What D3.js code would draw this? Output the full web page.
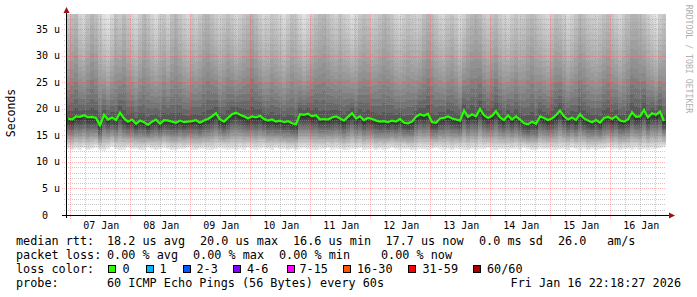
<!DOCTYPE html>
<html><head><meta charset="utf-8">
<script src="https://cdn.jsdelivr.net/npm/d3@7"></script>
<style>
html,body{margin:0;padding:0;background:#fff;}
svg{display:block;}
text{font-family:"DejaVu Sans Mono",monospace;}
</style></head>
<body>
<svg id="chart" width="697" height="297"></svg>
<script>
// ---------- data ----------
const startTime = Date.UTC(2026, 0, 6, 22, 18, 27);
const endTime = Date.UTC(2026, 0, 16, 22, 18, 27);
const yTicks = [0, 5, 10, 15, 20, 25, 30, 35];
const yTickLabels = ["0  ", "5 u", "10 u", "15 u", "20 u", "25 u", "30 u", "35 u"];
const dayLabels = ["07 Jan","08 Jan","09 Jan","10 Jan","11 Jan","12 Jan","13 Jan","14 Jan","15 Jan","16 Jan"];
// median rtt (us), one value per 96 minutes
const medianRtt = [
 18.2,18.0,18.6,18.5,18.8,18.4,18.5,18.3,16.9,18.9,
 18.0,18.4,17.9,19.3,18.2,17.6,18.0,17.2,17.8,17.5,
 17.0,17.6,18.0,17.2,17.9,17.8,17.6,17.4,17.8,17.5,
 17.6,17.7,17.9,17.4,17.8,18.1,18.6,19.2,18.0,17.6,
 18.3,19.0,19.3,18.9,18.6,18.2,18.6,18.4,18.7,18.1,
 17.8,18.0,17.6,17.8,17.5,17.7,17.3,17.1,19.0,18.9,
 19.1,18.6,18.8,18.0,18.1,18.0,18.4,18.6,18.2,17.8,
 18.5,19.2,18.2,18.6,17.9,18.3,18.1,17.8,17.6,17.7,
 17.5,17.8,17.6,18.1,17.4,17.3,17.6,18.5,19.0,18.7,
 19.1,17.5,17.4,18.2,18.3,18.6,18.2,18.0,17.8,19.7,
 18.5,19.0,18.6,20.0,18.8,18.3,18.7,19.6,18.4,17.9,
 18.8,18.0,18.6,18.0,17.3,17.1,17.6,17.2,18.6,18.3,
 17.9,18.2,18.8,19.7,18.6,18.0,18.4,17.9,19.0,18.2,
 17.8,17.5,17.9,17.4,18.3,18.5,18.1,18.6,17.8,17.6,
 18.0,19.4,18.5,18.6,19.8,18.4,19.2,18.9,19.5,17.7
];
// upper extent of the smoke (us) per column
const smokeHigh = [
 50,56,58,47,44,52,60,55,48,42,
 40,45,53,49,57,51,46,44,50,58,
 54,47,43,49,52,46,55,60,53,48,
 45,50,47,52,58,61,54,49,46,51,
 55,50,44,48,53,57,62,56,49,45,
 47,52,50,46,43,48,55,51,45,41,
 44,49,53,58,60,55,50,47,52,49,
 46,42,45,51,56,53,48,50,54,59,
 57,52,47,44,49,53,50,46,48,55,
 60,58,52,47,45,50,54,49,43,47,
 55,59,62,57,51,48,53,56,50,46,
 44,49,52,48,51,57,60,54,50,47,
 45,50,55,52,48,44,47,53,58,56,
 51,49,46,50,54,57,52,48,45,50,
 55,60,62,58,53,49,44,40,47,52
];
// lowest ping (us) per column
const smokeLow = [
 12.4,12.2,12.5,12.3,12.6,12.2,12.4,12.7,12.3,12.1,
 12.5,12.8,12.4,12.2,12.3,12.6,12.4,12.5,12.2,12.3,
 12.6,12.4,12.3,12.5,12.7,12.4,12.2,12.3,12.5,12.4,
 12.6,12.3,12.2,12.4,12.5,12.3,12.2,12.4,12.6,12.5,
 12.3,12.4,12.2,12.5,12.3,12.6,12.4,12.3,12.5,12.7,
 12.4,12.3,12.6,12.4,12.5,12.2,12.4,12.3,12.5,12.6,
 12.4,12.3,12.2,12.5,12.4,12.6,12.3,12.5,12.4,12.2,
 12.3,12.5,12.4,12.6,12.3,12.4,12.5,12.2,12.4,12.3,
 12.5,12.6,12.4,12.3,12.5,12.4,12.2,12.3,12.5,12.4,
 12.3,12.4,12.6,12.5,12.3,12.4,12.2,12.5,12.4,12.3,
 12.2,12.4,12.3,12.5,12.4,12.6,12.3,12.2,12.4,12.5,
 12.3,12.4,12.5,12.3,12.6,12.4,12.2,12.3,12.5,12.4,
 12.4,12.3,12.2,12.4,12.5,12.3,12.6,12.4,12.3,12.5,
 12.2,12.4,12.3,12.5,12.4,12.6,12.3,12.4,12.2,12.5,
 12.4,12.3,12.5,12.2,12.4,12.3,12.5,12.4,12.6,12.8
];
const lossLabels = ["0","1","2-3","4-6","7-15","16-30","31-59","60/60"];
const lossColors = ["#26ff00","#00b8ff","#0059ff","#7e00ff","#ff00ff","#ff5500","#ff0000","#a10000"];

// ---------- layout ----------
const svg = d3.select("#chart");
const plot = {left: 66, right: 666, top: 14, bottom: 215};
const x = d3.scaleUtc().domain([startTime, endTime]).range([plot.left, plot.right]);
const y = d3.scaleLinear().domain([0, 37.9]).range([plot.bottom, plot.top]);

svg.append("defs").append("clipPath").attr("id","clip")
  .append("rect").attr("x",plot.left).attr("y",plot.top)
  .attr("width",plot.right-plot.left).attr("height",plot.bottom-plot.top);

// ---------- smoke ----------
const n = medianRtt.length;
const step = (endTime - startTime) / n;
const K = 24;
const smoke = svg.append("g").attr("clip-path","url(#clip)").attr("shape-rendering","crispEdges");
const grey = v => { const c = Math.round(Math.max(0, Math.min(255, v))); return `rgb(${c},${c},${c})`; };
for (let i = 0; i < n; i++) {
  const x0 = Math.round(x(startTime + i*step));
  const x1 = Math.round(x(startTime + (i+1)*step));
  const m = medianRtt[i], h = smokeHigh[i], l = smokeLow[i];
  for (let k = 0; k < K; k++) {
    const t = (K - k) / K;
    const top = m + (h - m) * t;
    const bot = m - (m - l) * t;
    smoke.append("rect").attr("x",x0).attr("width",x1-x0)
      .attr("y",y(top)).attr("height",y(m)-y(top))
      .attr("fill",grey(38 + 200*Math.pow(t,0.45)));
    smoke.append("rect").attr("x",x0).attr("width",x1-x0)
      .attr("y",y(m)).attr("height",y(bot)-y(m))
      .attr("fill",grey(38 + 194*t));
  }
}

// ---------- grid ----------
const grid = svg.append("g").attr("shape-rendering","crispEdges");
const minorCol = "rgba(150,150,150,0.5)", majorCol = "rgba(255,60,60,0.35)";
d3.range(1, 38).filter(v => v % 5 !== 0).forEach(v => {
  const yy = Math.round(y(v)) + 0.5;
  grid.append("line").attr("x1",64).attr("x2",plot.right).attr("y1",yy).attr("y2",yy)
    .attr("stroke",minorCol).attr("stroke-dasharray","1,1");
});
yTicks.filter(v => v > 0).forEach(v => {
  const yy = Math.round(y(v)) + 0.5;
  grid.append("line").attr("x1",62).attr("x2",plot.right).attr("y1",yy).attr("y2",yy)
    .attr("stroke",majorCol).attr("stroke-dasharray","1,1");
});
d3.utcHour.every(6).range(startTime, endTime).forEach(d => {
  if (d.getUTCHours() === 0) return;
  const xx = Math.round(x(d)) + 0.5;
  grid.append("line").attr("x1",xx).attr("x2",xx).attr("y1",plot.top).attr("y2",plot.bottom+2)
    .attr("stroke",minorCol).attr("stroke-dasharray","1,1");
});
const midnights = d3.utcDay.range(startTime, endTime);
midnights.forEach(d => {
  const xx = Math.round(x(d)) + 0.5;
  grid.append("line").attr("x1",xx).attr("x2",xx).attr("y1",plot.top).attr("y2",plot.bottom+4)
    .attr("stroke",majorCol).attr("stroke-dasharray","1,1");
});

// ---------- median line ----------
const medPts = medianRtt.map((v,i) => [startTime + (i+0.5)*step, v]);
svg.append("path").attr("clip-path","url(#clip)")
  .attr("d", d3.line().x(d => x(d[0])).y(d => y(d[1])).curve(d3.curveLinear)(medPts))
  .attr("fill","none").attr("stroke","#26ff00").attr("stroke-width",2.2);

// ---------- axes ----------
const axisG = svg.append("g").attr("shape-rendering","crispEdges");
axisG.append("line").attr("x1",plot.left+0.5).attr("x2",plot.left+0.5).attr("y1",plot.bottom+3).attr("y2",10)
  .attr("stroke","#000");
axisG.append("line").attr("x1",62).attr("x2",670).attr("y1",plot.bottom+0.5).attr("y2",plot.bottom+0.5)
  .attr("stroke","#000");
svg.append("path").attr("d",`M${plot.left-2.5},13 L${plot.left+3.5},13 L${plot.left+0.5},7 Z`).attr("fill","#a01010");
svg.append("path").attr("d",`M669,${plot.bottom-2.5} L669,${plot.bottom+3.5} L675,${plot.bottom+0.5} Z`).attr("fill","#a01010");

// y tick labels
svg.append("g").selectAll("text").data(yTicks).join("text")
  .attr("x",60).attr("y",d => y(d)).attr("dy","0.35em")
  .attr("text-anchor","end").attr("font-size","10px").attr("fill","#000")
  .attr("xml:space","preserve").style("white-space","pre")
  .text((d,i) => yTickLabels[i]);

// x tick labels at noon
svg.append("g").selectAll("text").data(midnights).join("text")
  .attr("x",d => x(new Date(d.getTime() + 12*3600000)) + 1).attr("y",229)
  .attr("text-anchor","middle").attr("font-size","10px").attr("fill","#000")
  .text((d,i) => dayLabels[i]);

// y title
svg.append("text").attr("transform","translate(15,113) rotate(-90)")
  .attr("text-anchor","middle").attr("font-size","11.5px").attr("fill","#000").text("Seconds");

// watermark
svg.append("text").attr("transform","translate(686,59) rotate(90)")
  .attr("text-anchor","middle").attr("font-size","8.2px").attr("fill","#b0b0b0")
  .text("RRDTOOL / TOBI OETIKER");

// ---------- legend ----------
const lg = svg.append("g").attr("font-size","11.8px").attr("fill","#000");
const put = (txt, xx, yy, anchor) => lg.append("text").attr("x",xx).attr("y",yy)
  .attr("text-anchor",anchor || "start").attr("xml:space","preserve").style("white-space","pre").text(txt);
put("median rtt:", 16, 245);
put("18.2 us avg", 107, 245);
put("20.0 us max", 200, 245);
put("16.6 us min", 293, 245);
put("17.7 us now", 385.5, 245);
put("0.0 ms sd", 479, 245);
put("26.0", 558, 245);
put("am/s", 607, 245);
put("packet loss:", 16, 259);
put("0.00 % avg", 107, 259);
put("0.00 % max", 193, 259);
put("0.00 % min", 279, 259);
put("0.00 % now", 381, 259);
put("loss color:", 16, 273);
const boxX = [108, 145.5, 182.5, 233, 286.5, 343, 408, 473];
const labX = [122.5, 159.5, 196.5, 247, 299.5, 357, 422.5, 487];
lossLabels.forEach((lab, i) => {
  lg.append("rect").attr("x",boxX[i]+0.5).attr("y",265.5).attr("width",7).attr("height",7)
    .attr("fill",lossColors[i]).attr("stroke","#000").attr("stroke-width",1)
    .attr("shape-rendering","crispEdges");
  put(lab, labX[i], 273);
});
put("probe:", 16, 287);
put("60 ICMP Echo Pings (56 Bytes) every 60s", 107, 287);
put("Fri Jan 16 22:18:27 2026", 681, 287, "end");
</script>
</body></html>
